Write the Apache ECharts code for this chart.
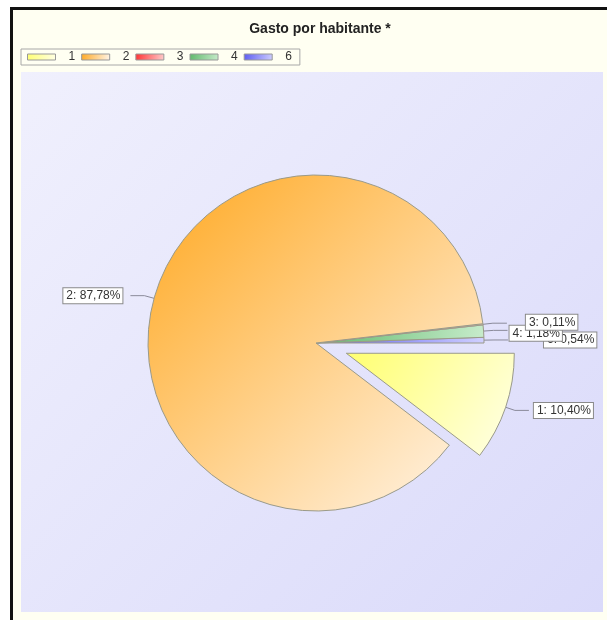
<!DOCTYPE html>
<html>
<head>
<meta charset="utf-8">
<script src="https://cdn.jsdelivr.net/npm/echarts@6/dist/echarts.min.js"></script>
<style>
  html, body { margin: 0; padding: 0; background: #ffffff; }
  #chart { width: 607px; height: 620px; }
</style>
</head>
<body>
<div id="chart"></div>
<script>
// Share of spending per inhabitant, by group (percent)
var categories = ['1', '2', '3', '4', '6'];
var shares = [10.40, 87.78, 0.11, 1.18, 0.54];
var exploded = [true, false, false, false, false];

// gradient stops for each group: [dark, light]
var palette = {
  '1': ['#ffff70', '#ffffe8'],
  '2': ['#ffa820', '#fff6ec'],
  '3': ['#ff3030', '#ffd0d0'],
  '4': ['#5fb86a', '#c8eccc'],
  '6': ['#5a5af0', '#d0d0ff']
};

function grad(c) {
  return new echarts.graphic.LinearGradient(0, 0, 1, 1, [
    { offset: 0, color: palette[c][0] },
    { offset: 1, color: palette[c][1] }
  ]);
}

// slices are fed last-to-first and swept counter-clockwise, so the
// sweep still runs 1,2,3,4,6 clockwise while later tags paint on top
var data = categories.map(function (c, i) {
  return {
    name: c,
    value: shares[i],
    selected: exploded[i],
    itemStyle: { color: grad(c) }
  };
}).reverse();

// small sideways offsets so the thin slices' tags fan out
var tagShift = { '2': [-3, 0], '3': [14, -1], '4': [-3, 3], '6': [31, 0] };

var chart = echarts.init(document.getElementById('chart'), null, { renderer: 'canvas' });

chart.setOption({
  backgroundColor: '#fffff2',
  animation: false,
  graphic: [
    {
      type: 'rect',
      z: -10,
      shape: { x: 0, y: 0, width: 607, height: 8 },
      style: { fill: '#ffffff' }
    },
    {
      type: 'rect',
      z: -10,
      shape: { x: 0, y: 0, width: 10, height: 620 },
      style: { fill: '#ffffff' }
    },
    {
      type: 'rect',
      z: -9,
      shape: { x: 11.5, y: 8.5, width: 700, height: 700 },
      style: { fill: 'transparent', stroke: '#111111', lineWidth: 3 }
    },
    {
      type: 'rect',
      z: -9,
      shape: { x: 21, y: 72, width: 582, height: 540 },
      style: {
        fill: new echarts.graphic.LinearGradient(0, 0, 1, 1, [
          { offset: 0, color: '#f0f0fd' },
          { offset: 1, color: '#dadafa' }
        ])
      }
    }
  ],
  title: {
    text: 'Gasto por habitante *',
    left: 315,
    textAlign: 'center',
    top: 17,
    textStyle: {
      fontFamily: 'Liberation Sans, Arial, sans-serif',
      fontSize: 14,
      fontWeight: 'bold',
      color: '#222222'
    }
  },
  legend: {
    left: 21,
    top: 49,
    orient: 'horizontal',
    icon: 'rect',
    itemWidth: 28,
    itemHeight: 6,
    itemGap: 6,
    padding: [2, 8, 2, 6],
    borderColor: '#a8a8a8',
    borderWidth: 1,
    selectedMode: false,
    textStyle: {
      fontFamily: 'Liberation Sans, Arial, sans-serif',
      fontSize: 12,
      color: '#333333',
      padding: [0, 0, 0, 8]
    },
    itemStyle: { borderColor: '#999999', borderWidth: 1 },
    data: categories
  },
  series: [
    {
      type: 'pie',
      center: [316, 343],
      radius: [0, 168],
      startAngle: 0,
      clockwise: false,
      selectedMode: 'multiple',
      selectedOffset: 32,
      avoidLabelOverlap: false,
      itemStyle: { borderColor: '#9a9a8a', borderWidth: 1 },
      emphasis: { disabled: true },
      label: {
        show: true,
        position: 'outside',
        formatter: function (p) {
          return p.name + ': ' + p.value.toFixed(2).replace('.', ',') + '%';
        },
        fontFamily: 'Liberation Sans, Arial, sans-serif',
        fontSize: 12,
        color: '#333333',
        backgroundColor: '#ffffff',
        borderColor: '#8a8a8a',
        borderWidth: 1,
        padding: [2, 2, 1, 3]
      },
      labelLine: {
        show: true,
        length: 10,
        length2: 14,
        lineStyle: { color: '#8a8a9a', width: 1 }
      },
      labelLayout: function (params) {
        var s = tagShift[data[params.dataIndex].name];
        return {
          hideOverlap: false,
          dx: s ? s[0] : 0,
          dy: s ? s[1] : 0
        };
      },
      data: data
    }
  ]
});
</script>
</body>
</html>
